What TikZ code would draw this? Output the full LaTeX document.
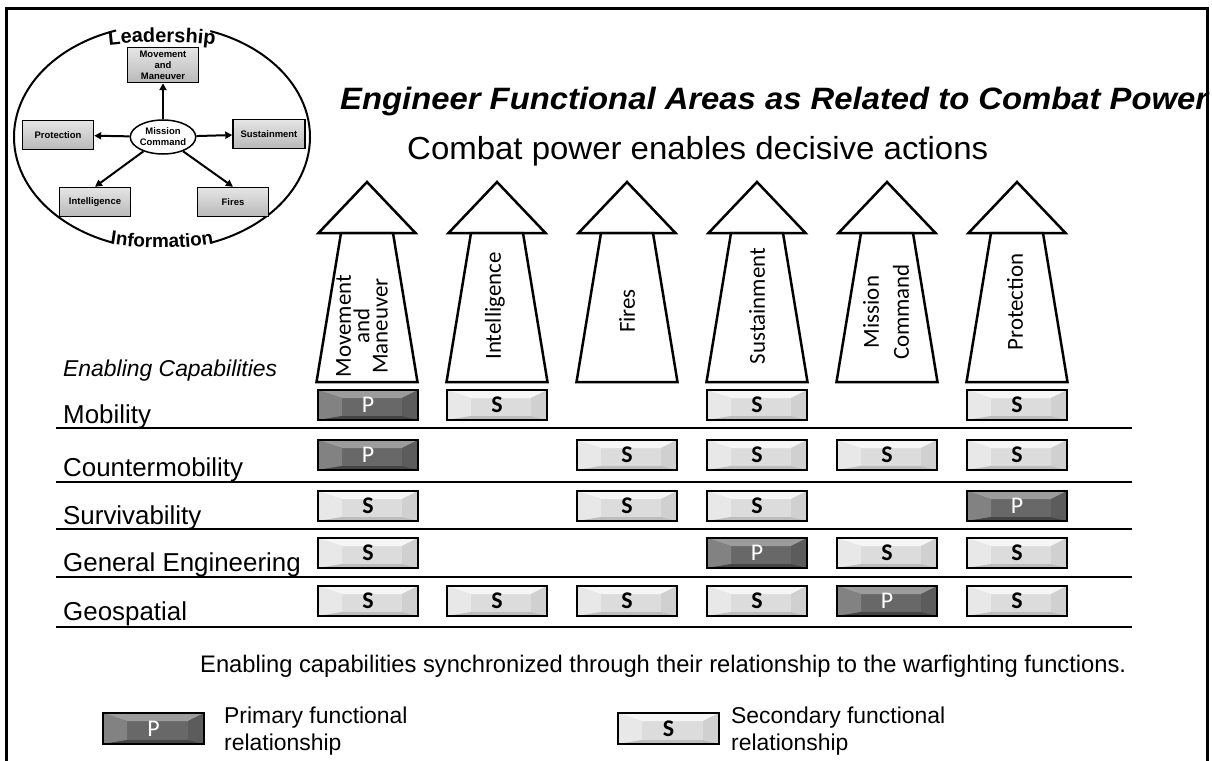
\documentclass[tikz,border=0pt]{standalone}
\usepackage{fontspec}
\usepackage{graphicx}
\setmainfont{Liberation Sans}
\newfontfamily\calib{Carlito}
\usetikzlibrary{arrows.meta,decorations.text,shapes.geometric}
\definecolor{stop}{HTML}{F6F6F6}
\definecolor{sleft}{HTML}{E8E8E8}
\definecolor{sright}{HTML}{D0D0D0}
\definecolor{sbot}{HTML}{BDBDBD}
\definecolor{smid}{HTML}{DCDCDC}
\definecolor{ptop}{HTML}{9C9C9C}
\definecolor{pleft}{HTML}{828282}
\definecolor{pright}{HTML}{5C5C5C}
\definecolor{pbot}{HTML}{454545}
\definecolor{pmid}{HTML}{686868}
\tikzset{
  bevelbox/.style n args={5}{fill=#5, draw=black, line width=2bp, inner sep=0pt,
    minimum width=100bp, minimum height=30bp,
    path picture={
      \fill[#1] (path picture bounding box.north west) -- (path picture bounding box.north east)
        -- ([xshift=-16bp,yshift=-8bp]path picture bounding box.north east)
        -- ([xshift=24bp,yshift=-8bp]path picture bounding box.north west) -- cycle;
      \fill[#2] (path picture bounding box.north west)
        -- ([xshift=24bp,yshift=-8bp]path picture bounding box.north west)
        -- ([xshift=24bp,yshift=4bp]path picture bounding box.south west)
        -- (path picture bounding box.south west) -- cycle;
      \fill[#3] (path picture bounding box.north east)
        -- ([xshift=-16bp,yshift=-8bp]path picture bounding box.north east)
        -- ([xshift=-16bp,yshift=4bp]path picture bounding box.south east)
        -- (path picture bounding box.south east) -- cycle;
      \fill[#4] (path picture bounding box.south west)
        -- ([xshift=24bp,yshift=4bp]path picture bounding box.south west)
        -- ([xshift=-16bp,yshift=4bp]path picture bounding box.south east)
        -- (path picture bounding box.south east) -- cycle;
    }},
  sbox/.style={bevelbox={stop}{sleft}{sright}{sbot}{smid}, text=black,
    font=\calib\bfseries\fontsize{24}{24}\selectfont},
  pbox/.style={bevelbox={ptop}{pleft}{pright}{pbot}{pmid}, text=white,
    font=\calib\fontsize{24}{24}\selectfont},
  minibox/.style={draw=black, line width=1.4bp, top color=gray!20, bottom color=gray!55,
    inner sep=0pt, align=center, font=\bfseries\fontsize{9.5}{11}\selectfont},
  miniarrow/.style={line width=2bp, -{Triangle[length=7bp,width=7bp]}},
  bigarrow/.style={draw=black, fill=white, line width=2.5bp},
  vlabel/.style={rotate=90, inner sep=0pt, align=center},
  rowlabel/.style={anchor=base west, inner sep=0pt, font=\fontsize{26}{26}\selectfont},
  rowline/.style={line width=2.5bp},
}
\begin{document}
\begin{tikzpicture}[x=1bp,y=-1bp]
\useasboundingbox (0,0) rectangle (1212,761);
\fill[white] (0,0) rectangle (1212,761);

% ---------- mini diagram ----------
\draw[line width=2bp] (162,137) ellipse [x radius=148, y radius=112];
\draw[white, line width=7bp] plot[domain=108:71, samples=30] ({162+148*cos(\x)},{137-112*sin(\x)});
\draw[white, line width=7bp] plot[domain=-109:-71, samples=30] ({162+148*cos(\x)},{137-112*sin(\x)});
\path[decorate, decoration={text along path, text align=center,
  text={|\fontsize{20}{20}\bfseries|Leadership}}]
  plot[domain=125:55, samples=40] ({162+210*cos(\x)},{137-95*sin(\x)});
\path[decorate, decoration={text along path, text align=center,
  text={|\fontsize{19}{19}\bfseries|Information}}]
  plot[domain=-125:-55, samples=40] ({162+190*cos(\x)},{137-111*sin(\x)});

\node[minibox, minimum width=71bp, minimum height=35bp] (mmm) at (163,65) {Movement\\and\\Maneuver};
\node[minibox, minimum width=71bp, minimum height=29bp] (mpro) at (58,135) {Protection};
\node[minibox, minimum width=72bp, minimum height=29bp] (msus) at (269,134) {Sustainment};
\node[minibox, minimum width=71bp, minimum height=29bp] (mint) at (95,202) {Intelligence};
\node[minibox, minimum width=71bp, minimum height=29bp] (mfir) at (233,202) {Fires};
\node[draw=black, line width=1.5bp, fill=white, ellipse, inner sep=0pt, minimum width=53bp,
  minimum height=34bp, align=center, font=\bfseries\fontsize{9.5}{11}\selectfont] (mmc) at (163,137) {Mission\\Command};
\draw[miniarrow] (mmc) -- (mmm);
\draw[miniarrow] (mmc) -- (mpro);
\draw[miniarrow] (mmc) -- (msus);
\draw[miniarrow] (mmc) -- (mint.north);
\draw[miniarrow] (mmc) -- (mfir.north);

% ---------- titles ----------
\node[anchor=base west, inner sep=0pt] (title) at (340,110)
  {\resizebox{868bp}{\height}{\fontsize{31}{31}\selectfont\bfseries\itshape Engineer Functional Areas as Related to Combat Power}};
\node[anchor=base west, inner sep=0pt] (sub) at (407,159)
  {\resizebox{581bp}{\height}{\fontsize{32}{32}\selectfont Combat power enables decisive actions}};

% ---------- big arrows ----------
\foreach \cx in {367,497,627,757,887,1017}{
  \draw[bigarrow] (\cx,182) -- (\cx+48.5,233) -- (\cx-48.5,233) -- cycle;
  \draw[bigarrow] (\cx-26,233) -- (\cx+26,233) -- (\cx+50.5,382) -- (\cx-50.5,382) -- cycle;
}
\node[vlabel, font=\calib\fontsize{23}{18.5}\selectfont] (lmm) at (362,326) {Movement\\and\\Maneuver};
\node[vlabel, font=\calib\fontsize{23}{23}\selectfont] (lint) at (495,306) {Intelligence};
\node[vlabel, font=\calib\fontsize{23}{23}\selectfont] (lfir) at (627,311) {Fires};
\node[vlabel, font=\calib\fontsize{23}{23}\selectfont] (lsus) at (757,306) {Sustainment};
\node[vlabel, font=\calib\fontsize{23}{30}\selectfont] (lmc) at (886,312) {Mission\\Command};
\node[vlabel, font=\calib\fontsize{23}{23}\selectfont] (lpro) at (1015,302) {Protection};

% ---------- rows ----------
\node[anchor=base west, inner sep=0pt, font=\fontsize{23}{23}\selectfont\itshape] (ench) at (63,376) {Enabling Capabilities};
\node[rowlabel] (rmob) at (63,423) {Mobility};
\node[rowlabel] (rcm) at (63,476) {Countermobility};
\node[rowlabel] (rsur) at (63,524) {Survivability};
\node[rowlabel] (rgen) at (63,571) {General Engineering};
\node[rowlabel] (rgeo) at (63,620) {Geospatial};

\draw[rowline] (56,428) -- (1132,428);
\draw[rowline] (56,482) -- (1132,482);
\draw[rowline] (56,529) -- (1132,529);
\draw[rowline] (56,577) -- (1132,577);
\draw[rowline] (56,627) -- (1132,627);

% Mobility
\node[pbox] (b11) at (368,405) {P};
\node[sbox] (b12) at (497,405) {S};
\node[sbox] (b14) at (757,405) {S};
\node[sbox] (b16) at (1017,405) {S};
% Countermobility
\node[pbox] (b21) at (368,455) {P};
\node[sbox] (b23) at (627,455) {S};
\node[sbox] (b24) at (757,455) {S};
\node[sbox] (b25) at (887,455) {S};
\node[sbox] (b26) at (1017,455) {S};
% Survivability
\node[sbox] (b31) at (368,506) {S};
\node[sbox] (b33) at (627,506) {S};
\node[sbox] (b34) at (757,506) {S};
\node[pbox] (b36) at (1017,506) {P};
% General Engineering
\node[sbox] (b41) at (368,553) {S};
\node[pbox] (b44) at (757,553) {P};
\node[sbox] (b45) at (887,553) {S};
\node[sbox] (b46) at (1017,553) {S};
% Geospatial
\node[sbox] (b51) at (368,601) {S};
\node[sbox] (b52) at (497,601) {S};
\node[sbox] (b53) at (627,601) {S};
\node[sbox] (b54) at (757,601) {S};
\node[pbox] (b55) at (887,601) {P};
\node[sbox] (b56) at (1017,601) {S};

% ---------- bottom ----------
\node[anchor=base west, inner sep=0pt] (sync) at (200,672)
  {\resizebox{926bp}{\height}{\fontsize{24}{24}\selectfont Enabling capabilities synchronized through their relationship to the warfighting functions.}};
\node[pbox, minimum width=101bp, minimum height=31bp] (legp) at (153.5,728.5) {P};
\node[sbox, minimum width=101bp, minimum height=31bp] (legs) at (668.5,728.5) {S};
\node[anchor=north west, inner sep=0pt, align=left, font=\fontsize{23}{27}\selectfont] (legpt) at (224,707) {Primary functional\\relationship};
\node[anchor=north west, inner sep=0pt, align=left, font=\fontsize{23}{27}\selectfont] (legst) at (731,707) {Secondary functional\\relationship};

% ---------- frame ----------
\draw[line width=3bp] (6,761) -- (6,9) -- (1207,9) -- (1207,761);
\end{tikzpicture}
\end{document}
